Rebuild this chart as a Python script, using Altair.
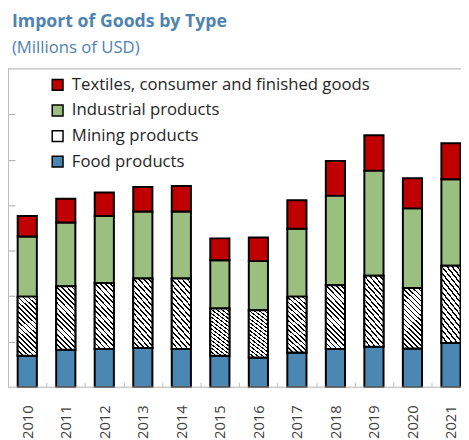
import altair as alt
import pandas as pd

FONT = "Open Sans"

years = [str(y) for y in range(2010, 2022)]
food = [690, 820, 840, 860, 840, 690, 650, 760, 840, 890, 850, 970]
mining = [1300, 1400, 1450, 1530, 1550, 1040, 1040, 1230, 1400, 1560, 1330, 1700]
industrial = [1320, 1400, 1470, 1470, 1470, 1060, 1080, 1490, 1970, 2310, 1750, 1900]
textiles = [450, 520, 520, 540, 560, 480, 520, 630, 760, 780, 660, 790]

categories = ["Textiles, consumer and finished goods", "Industrial products",
              "Mining products", "Food products"]
colors = ["#c00000", "#9bbf7e", "#ffffff", "#4a87b2"]
y_ticks = [1000, 2000, 3000, 4000, 5000, 6000]

rows = []
for i, yr in enumerate(years):
    base = 0
    for cat, series in [(categories[3], food), (categories[2], mining),
                        (categories[1], industrial), (categories[0], textiles)]:
        v = series[i]
        rows.append({"year": yr, "category": cat, "value": v, "y0": base, "y1": base + v})
        base += v
df = pd.DataFrame(rows)

# diagonal hatch made of a striped linear gradient
N = 16
stops = []
for i in range(N):
    a = i / N
    b = (i + 0.34) / N
    c = (i + 1) / N
    stops += [{"offset": a, "color": "#000000"}, {"offset": b, "color": "#000000"},
              {"offset": b, "color": "#ffffff"}, {"offset": c, "color": "#ffffff"}]
r = 19.5 / 63.0
k = (r + 1) / (r * r + 1)
hatch_fill = {"gradient": "linear", "x1": 0, "y1": 1, "x2": k * r, "y2": 1 - k, "stops": stops}

W, H = 461, 324
STEP = 39.2
xscale = alt.Scale(domain=years, range=[0, STEP * 12], paddingInner=0, paddingOuter=0)
yscale = alt.Scale(domain=[0, 7000], nice=False, zero=True)

x_axis = alt.Axis(title=None, labelAngle=270, labelFontSize=15, labelColor="#404040",
                  labelFont=FONT, labelPadding=18, tickBand="extent", tickSize=5,
                  tickColor="#bfbfbf", tickWidth=1, offset=-5, domain=False, grid=False)
y_axis = alt.Axis(title=None, labels=False, domain=False, grid=False, values=y_ticks,
                  tickSize=7, tickColor="#a6a6a6", tickWidth=1, offset=-7)

X = alt.X("year:N", scale=xscale, axis=x_axis)
Y = alt.Y("y1:Q", scale=yscale, axis=y_axis)

bars = alt.Chart(df).mark_bar(width=19.5, stroke="black", strokeWidth=2).encode(
    x=X, y=Y, y2="y0:Q",
    color=alt.Color("category:N", scale=alt.Scale(domain=categories, range=colors),
                    legend=alt.Legend(title=None, orient="none", legendX=42, legendY=8,
                                      labelFont=FONT, labelFontSize=17, labelColor="#262626",
                                      symbolType="square", symbolSize=121,
                                      symbolStrokeColor="black", symbolStrokeWidth=1.5,
                                      labelOffset=6, rowPadding=8, labelLimit=0)),
)

hatch = alt.Chart(df).transform_filter(alt.datum.category == "Mining products").mark_bar(
    width=19.5, stroke="black", strokeWidth=2, fill=hatch_fill
).encode(x=X, y=Y, y2="y0:Q")

one = pd.DataFrame({"a": [0]})
frame_color = "#bfbfbf"
bottom = alt.Chart(one).mark_rule(color=frame_color, strokeWidth=1).encode(y=alt.datum(0))
top = alt.Chart(one).mark_rule(color=frame_color, strokeWidth=1).encode(y=alt.datum(7000))
left = alt.Chart(one).mark_rule(color=frame_color, strokeWidth=1).encode(x=alt.value(0.5))

chart = alt.layer(bars, hatch, bottom, top, left).properties(
    width=W, height=H,
    autosize=alt.AutoSizeParams(type="none"),
    padding={"left": 0, "top": 58, "right": 0, "bottom": 50},
    title=alt.Title("Import of Goods by Type", subtitle="(Millions of USD)",
                    anchor="start", frame="group", dx=4, offset=13,
                    font=FONT, fontSize=18, fontWeight="bold", color="#4e83b0",
                    subtitleFont=FONT, subtitleFontSize=17, subtitleColor="#4e83b0",
                    subtitlePadding=9),
).configure_view(stroke=None).configure(background="white")

chart.save("out.html", embed_options={"renderer": "svg", "actions": False})
